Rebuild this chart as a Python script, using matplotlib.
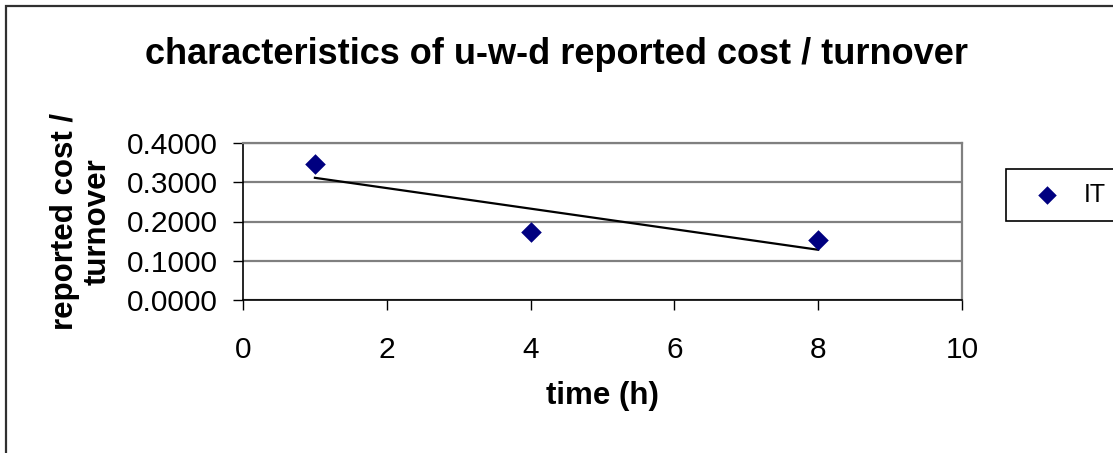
import matplotlib
matplotlib.use("Agg")
import matplotlib.pyplot as plt
from matplotlib.patches import Rectangle
import numpy as np

plt.rcParams["font.family"] = ["Liberation Sans", "DejaVu Sans"]

# data
time_h = [1, 4, 8]
cost_ratio = [0.346, 0.172, 0.154]
series_name = "IT"
x_ticks = [0, 2, 4, 6, 8, 10]
y_ticks = [0.0, 0.1, 0.2, 0.3, 0.4]

W, H = 1113, 453
fig = plt.figure(figsize=(W / 100, H / 100), dpi=100)
ax = fig.add_axes([243 / W, 1 - 300 / H, (962 - 243) / W, (300 - 143) / H])

# outer chart border (runs off the right and bottom edge)
fig.patches.append(Rectangle((5.5 / W, -0.2), 1.2, 1 - 5.5 / H + 0.2,
                             transform=fig.transFigure, fill=False,
                             edgecolor="#303030", linewidth=1.6))

ax.scatter(time_h, cost_ratio, marker="D", s=110, color="#000080",
           zorder=5, label=series_name, linewidths=0)

# linear trend line
k, b = np.polyfit(time_h, cost_ratio, 1)
xs = np.array([min(time_h), max(time_h)])
ax.plot(xs, k * xs + b, color="black", linewidth=1.6, zorder=4)

ax.set_xlim(0, 10)
ax.set_ylim(0, 0.4)
ax.set_xticks(x_ticks)
ax.set_yticks(y_ticks)
ax.set_yticklabels([f"{v:.4f}" for v in y_ticks])
ax.tick_params(axis="both", labelsize=21.5, direction="out", length=7, width=1)
ax.tick_params(axis="x", pad=19)
ax.tick_params(axis="y", pad=11)
ax.yaxis.grid(True, color="#808080", linewidth=1.6)
ax.set_axisbelow(True)
for side in ("top", "right"):
    ax.spines[side].set_color("#808080")
    ax.spines[side].set_linewidth(1.6)
for side in ("left", "bottom"):
    ax.spines[side].set_color("black")
    ax.spines[side].set_linewidth(1.2)

ax.set_xlabel("time (h)", fontsize=22.5, fontweight="bold", labelpad=12)
ax.set_ylabel("reported cost /\nturnover", fontsize=22.5, fontweight="bold",
              labelpad=10, linespacing=1.15)
fig.text(0.5, 1 - 55 / H, "characteristics of u-w-d reported cost / turnover",
         ha="center", va="center", fontsize=26, fontweight="bold")

leg = fig.legend(loc="center left", bbox_to_anchor=(1006 / W, 1 - 195 / H),
                 borderaxespad=0, fontsize=18, frameon=True, fancybox=False,
                 framealpha=1, edgecolor="black", borderpad=0.55,
                 handlelength=2.2, handletextpad=0.35,
                 scatterpoints=1, markerscale=0.9)
leg.get_frame().set_linewidth(1.2)

fig.savefig("out.png", dpi=100)
